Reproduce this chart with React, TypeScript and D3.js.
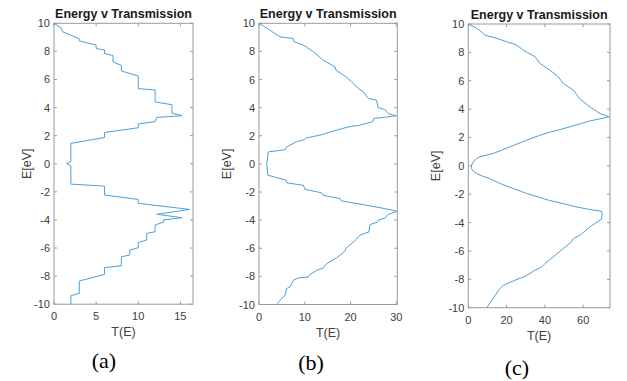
import React from "react";
import * as d3 from "d3";

// Panel (a)
const tA = [0, 0.9, 1, 3, 3, 5, 5, 6, 6, 7, 7, 8, 8, 10, 10, 12, 12, 14, 14, 15.2, 12.2, 12, 10, 10, 6, 6, 2, 2, 1.5, 2, 2, 6, 6, 10, 10, 16.1, 12.2, 15.2, 13, 13, 12, 12, 11, 11, 10, 10, 9, 9, 8, 8, 6, 6, 3, 3, 2, 2];
const eA = [10, 9.65, 9.4, 8.9, 8.75, 8.45, 8.2, 8.1, 7.85, 7.7, 7.25, 7.0, 6.6, 6.25, 5.35, 5.25, 4.4, 4.2, 3.6, 3.42, 3.3, 3.0, 2.83, 2.56, 2.23, 1.87, 1.45, 0.15, 0.02, -0.15, -1.45, -1.59, -2.23, -2.54, -2.82, -3.25, -3.6, -3.84, -4.0, -4.15, -4.37, -4.84, -4.96, -5.43, -5.6, -5.98, -6.14, -6.5, -6.62, -7.26, -7.4, -7.88, -8.35, -9.23, -9.4, -10];

// Panel (b)
const tB = [0, 1.3, 2.4, 4.6, 7.5, 7.6, 9.7, 11.9, 14, 16.6, 16.8, 18.8, 20.2, 21.7, 22.8, 23.9, 25.7, 26, 27.5, 28.2, 30, 25.1, 24.8, 22, 19.5, 18, 16.2, 14, 12.2, 10.3, 10, 8.2, 6, 5.8, 2, 1.9, 1.7, 1.9, 1.9, 5.9, 6.1, 9.7, 10, 13.7, 14, 17.7, 18, 23.5, 28.6, 30.1, 28.2, 27.5, 26, 25.8, 24.2, 24, 22, 21.3, 20.2, 18.9, 18.8, 17, 14.8, 14, 12.6, 11.1, 10.8, 8.6, 7.5, 6.8, 6, 5.7, 4.9, 4.6, 4, 3.9];
const eB = [10, 9.75, 9.5, 9.04, 8.92, 8.7, 8.45, 7.97, 7.38, 6.9, 6.67, 6.24, 5.84, 5.36, 5.12, 4.65, 4.53, 4.0, 3.87, 3.58, 3.42, 3.23, 3.0, 2.75, 2.63, 2.5, 2.33, 2.1, 1.97, 1.85, 1.73, 1.57, 1.21, 1.02, 0.85, 0.5, 0.02, -0.69, -0.8, -1.16, -1.35, -1.52, -1.8, -2.06, -2.23, -2.47, -2.63, -2.94, -3.25, -3.37, -3.6, -3.85, -4.01, -4.15, -4.32, -4.84, -5.08, -5.35, -5.67, -6.03, -6.2, -6.67, -7.09, -7.4, -7.57, -7.88, -8.04, -8.11, -8.28, -8.75, -8.87, -9.35, -9.58, -9.7, -9.94, -10];

// Panel (c)
const tC = [0, 4.4, 7.8, 8.5, 14.8, 20, 25.2, 28.7, 34.8, 37.4, 42.6, 47, 49.6, 54.8, 57.4, 58, 63.5, 68.8, 73.6, 67.9, 63, 59.2, 53, 47, 42, 37.4, 30.5, 21.8, 13, 6.1, 4.4, 2.6, 1.7, 1.7, 2.6, 4.4, 7.8, 10.4, 16.5, 23.5, 30.5, 37.4, 41.8, 49.6, 54.8, 63.5, 69.6, 70, 69.5, 70, 63.5, 58.3, 54.8, 53.9, 49.6, 44.4, 40, 38.3, 34.8, 29.6, 23.5, 18.3, 16.5, 12.2, 9.7];
const eC = [10, 9.7, 9.34, 9.22, 8.99, 8.75, 8.52, 8.16, 7.69, 7.22, 6.75, 6.28, 5.81, 5.34, 4.87, 4.75, 4.16, 3.69, 3.46, 3.29, 3.15, 2.99, 2.75, 2.52, 2.35, 2.16, 1.81, 1.34, 0.87, 0.64, 0.52, 0.28, 0.05, -0.19, -0.38, -0.55, -0.75, -0.85, -1.24, -1.6, -1.95, -2.23, -2.42, -2.66, -2.85, -3.08, -3.2, -3.48, -3.6, -3.72, -4.3, -4.89, -5.13, -5.36, -5.83, -6.42, -6.89, -7.13, -7.36, -7.79, -8.11, -8.42, -8.66, -9.48, -10];

const xTicksA = [0, 5, 10, 15];
const xTicksB = [0, 10, 20, 30];
const xTicksC = [0, 20, 40, 60];
const yTicks = [-10, -8, -6, -4, -2, 0, 2, 4, 6, 8, 10];
const titleText = "Energy v Transmission";
const xLabel = "T(E)";
const yLabel = "E[eV]";
const captions = ["(a)", "(b)", "(c)"];

const FONT = "'Liberation Sans', Arial, Helvetica, sans-serif";
const AX = "#9a9a9a";
const TXT = "#404040";
const LINE = "#4a9fdc";

type PanelProps = {
  t: number[];
  e: number[];
  xMax: number;
  xTicks: number[];
  left: number;
  right: number;
  top: number;
  bottom: number;
  yLabelX: number;
  caption: string;
  capX: number;
  capY: number;
};

function Panel(p: PanelProps) {
  const x = d3.scaleLinear().domain([0, p.xMax]).range([p.left, p.right]);
  const y = d3.scaleLinear().domain([-10, 10]).range([p.bottom, p.top]);
  const pts: [number, number][] = p.t.map((tv, i) => [tv, p.e[i]]);
  const line = d3
    .line<[number, number]>()
    .x((d) => x(d[0]))
    .y((d) => y(d[1]));
  const tl = 3;
  const cx = (p.left + p.right) / 2;
  const cy = (p.top + p.bottom) / 2;
  return (
    <g>
      <rect x={p.left} y={p.top} width={p.right - p.left} height={p.bottom - p.top} fill="#fff" stroke={AX} strokeWidth={1} />
      {p.xTicks.map((v) => (
        <g key={"x" + v}>
          <line x1={x(v)} x2={x(v)} y1={p.bottom} y2={p.bottom - tl} stroke={AX} />
          <line x1={x(v)} x2={x(v)} y1={p.top} y2={p.top + tl} stroke={AX} />
          <text x={x(v)} y={p.bottom + 16} textAnchor="middle" fontSize={11} fill={TXT} fontFamily={FONT}>
            {v}
          </text>
        </g>
      ))}
      {yTicks.map((v) => (
        <g key={"y" + v}>
          <line x1={p.left} x2={p.left + tl} y1={y(v)} y2={y(v)} stroke={AX} />
          <line x1={p.right} x2={p.right - tl} y1={y(v)} y2={y(v)} stroke={AX} />
          <text x={p.left - 4} y={y(v) + 4} textAnchor="end" fontSize={11} fill={TXT} fontFamily={FONT}>
            {v}
          </text>
        </g>
      ))}
      <path d={line(pts) || ""} fill="none" stroke={LINE} strokeWidth={1} strokeLinejoin="round" />
      <text x={cx} y={p.top - 5} textAnchor="middle" fontSize={12.5} fontWeight="bold" fill="#1a1a1a" fontFamily={FONT}>
        {titleText}
      </text>
      <text x={cx} y={p.bottom + 32} textAnchor="middle" fontSize={12.5} fill={TXT} fontFamily={FONT}>
        {xLabel}
      </text>
      <text
        transform={`translate(${p.yLabelX},${cy}) rotate(-90)`}
        textAnchor="middle"
        dominantBaseline="middle"
        fontSize={12.5}
        fill={TXT}
        fontFamily={FONT}
      >
        {yLabel}
      </text>
      <text x={p.capX} y={p.capY} textAnchor="middle" fontSize={22} fill="#000" fontFamily="'Liberation Serif', 'Times New Roman', serif">
        {p.caption}
      </text>
    </g>
  );
}

export default function App() {
  return (
    <svg width={627} height={381} style={{ position: "absolute", left: 0, top: 0, background: "#fff" }}>
      <rect width={627} height={381} fill="#fff" />
      <Panel t={tA} e={eA} xMax={16.5} xTicks={xTicksA} left={54} right={193} top={23.3} bottom={304.2} yLabelX={28} caption={captions[0]} capX={104} capY={368} />
      <Panel t={tB} e={eB} xMax={30.2} xTicks={xTicksB} left={259} right={397.3} top={23.3} bottom={304.5} yLabelX={228} caption={captions[1]} capX={311} capY={370} />
      <Panel t={tC} e={eC} xMax={74} xTicks={xTicksC} left={468.3} right={610} top={24} bottom={307.7} yLabelX={437} caption={captions[2]} capX={517} capY={375} />
    </svg>
  );
}
